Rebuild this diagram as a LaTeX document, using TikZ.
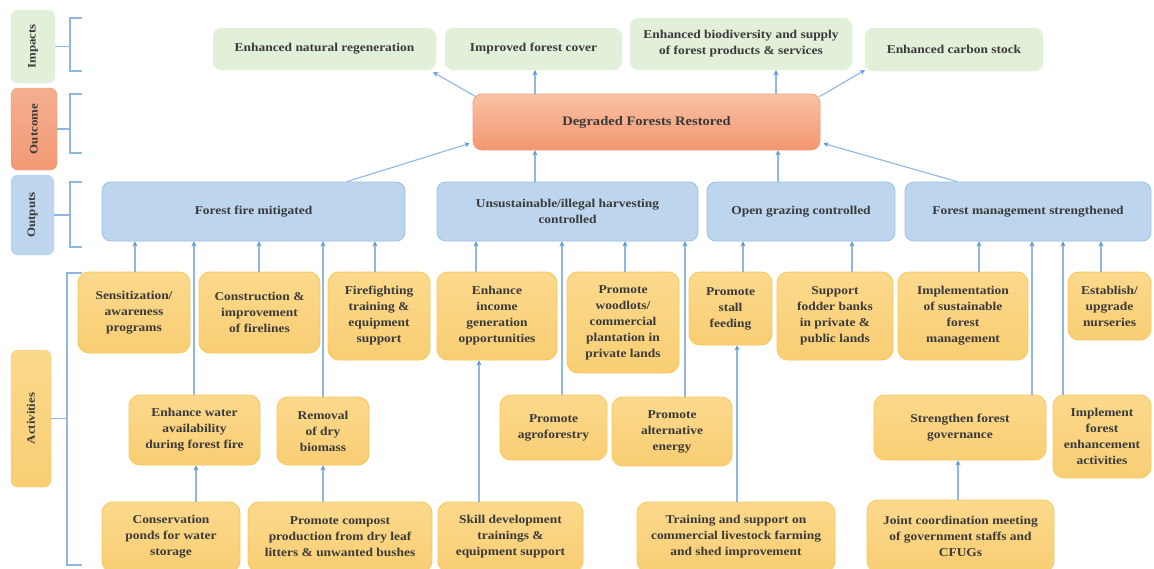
\documentclass[tikz,border=0pt]{standalone}
\usepackage{fontspec}
\setmainfont{Liberation Serif}[FakeStretch=1.12]
\usetikzlibrary{arrows.meta,calc}
\definecolor{txt}{HTML}{3A3A3A}
\definecolor{gfill}{HTML}{E2EFD9}
\definecolor{otop}{HTML}{F9C2A6}
\definecolor{obot}{HTML}{F3966F}
\definecolor{oline}{HTML}{F29E7A}
\definecolor{olab}{HTML}{F29A74}
\definecolor{bfill}{HTML}{BDD6EE}
\definecolor{bline}{HTML}{9FC1E7}
\definecolor{ytop}{HTML}{FBD98C}
\definecolor{ybot}{HTML}{F9CE74}
\definecolor{yline}{HTML}{F7C95E}
\definecolor{lblue}{HTML}{8EB7E4}
\definecolor{ablue}{HTML}{5D97D6}
\tikzset{
  box/.style={rounded corners=9pt, inner sep=0pt, align=center, text=txt,
    font=\bfseries\fontsize{12}{16}\selectfont},
  gbox/.style={box, fill=gfill, draw=gfill},
  obox/.style={box, top color=otop, bottom color=obot, draw=oline, line width=0.8pt,
    font=\bfseries\fontsize{13}{16}\selectfont},
  bbox/.style={box, fill=bfill, draw=bline, line width=0.9pt},
  ybox/.style={box, top color=ytop, bottom color=ybot, draw=yline, line width=0.9pt, rounded corners=11pt},
  lab/.style={box, rounded corners=7pt, rotate=90, font=\bfseries\fontsize{11.5}{14}\selectfont},
  conn/.style={draw=lblue, line width=1.1pt, -{Stealth[length=5pt,width=5pt,color=ablue]}},
  brk/.style={draw=lblue, line width=1.1pt},
}
\newcommand\vconn[3]{\draw[conn] (#1.north -| #3,0) -- (#2.south -| #3,0);}
\begin{document}
\begin{tikzpicture}[x=1pt,y=-1pt]
\useasboundingbox (0,0) rectangle (1154,568);
\fill[white] (0,0) rectangle (1154,568);
\clip (0,0) rectangle (1154,568);

% left labels
\node[lab, fill=gfill, draw=gfill, minimum width=73, minimum height=44] (labImp) at (33,46.5) {Impacts};
\node[lab, top color=olab!80!white, bottom color=olab, draw=olab, minimum width=82, minimum height=46] (labOut) at (34,129) {Outcome};
\node[lab, fill=bfill, draw=bfill, minimum width=80, minimum height=43] (labOutp) at (32.5,215) {Outputs};
\node[lab, top color=ytop, bottom color=ybot, draw=yline, minimum width=137, minimum height=40] (labAct) at (31,418.5) {Activities};

% brackets
\draw[brk] (82,18) -- (70,18) -- (70,71) -- (82,71);
\draw[brk] (labImp.south) -- (labImp.south -| 70,0);
\draw[brk] (82,94) -- (70,94) -- (70,153) -- (82,153);
\draw[brk] (labOut.south) -- (labOut.south -| 70,0);
\draw[brk] (82,182) -- (70,182) -- (70,247) -- (82,247);
\draw[brk] (labOutp.south) -- (labOutp.south -| 70,0);
\draw[brk] (82,273) -- (67,273) -- (67,565) -- (82,565);
\draw[brk] (labAct.south) -- (labAct.south -| 67,0);

% impacts
\node[gbox, minimum width=223, minimum height=42] (imp1) at (324.5,49) {Enhanced natural regeneration};
\node[gbox, minimum width=177, minimum height=42] (imp2) at (533.5,49) {Improved forest cover};
\node[gbox, minimum width=222, minimum height=52] (imp3) at (741,44) {Enhanced biodiversity and supply\\of forest products \& services};
\node[gbox, minimum width=178, minimum height=43] (imp4) at (954,49.5) {Enhanced carbon stock};

% outcome
\node[obox, minimum width=347, minimum height=56] (out) at (646.5,122) {Degraded Forests Restored};

% outputs
\node[bbox, minimum width=303, minimum height=59] (o1) at (253.5,211.5) {Forest fire mitigated};
\node[bbox, minimum width=261, minimum height=59] (o2) at (567.5,211.5) {Unsustainable/illegal harvesting\\controlled};
\node[bbox, minimum width=188, minimum height=59] (o3) at (801,211.5) {Open grazing controlled};
\node[bbox, minimum width=246, minimum height=59] (o4) at (1028,211.5) {Forest management strengthened};

% activities row 1
\node[ybox, minimum width=112, minimum height=81] (a1) at (134,312.5) {Sensitization/\\awareness\\programs};
\node[ybox, minimum width=121, minimum height=81] (a2) at (259.5,312.5) {Construction \&\\improvement\\of firelines};
\node[ybox, minimum width=102, minimum height=88] (a3) at (379,316) {Firefighting\\training \&\\equipment\\support};
\node[ybox, minimum width=120, minimum height=88] (a4) at (497,316) {Enhance\\income\\generation\\opportunities};
\node[ybox, minimum width=112, minimum height=101] (a5) at (623,322.5) {Promote\\woodlots/\\commercial\\plantation in\\private lands};
\node[ybox, minimum width=83, minimum height=73] (a6) at (730.5,308.5) {Promote\\stall\\feeding};
\node[ybox, minimum width=116, minimum height=88] (a7) at (835,316) {Support\\fodder banks\\in private \&\\public lands};
\node[ybox, minimum width=130, minimum height=88] (a8) at (963,316) {Implementation\\of sustainable\\forest\\management};
\node[ybox, minimum width=83, minimum height=68] (a9) at (1109.5,306) {Establish/\\upgrade\\nurseries};

% activities row 2
\node[ybox, minimum width=131, minimum height=70] (b1) at (194.5,430) {Enhance water\\availability\\during forest fire};
\node[ybox, minimum width=92, minimum height=68] (b2) at (323,431) {Removal\\of dry\\biomass};
\node[ybox, minimum width=107, minimum height=65] (b3) at (553.5,427.5) {Promote\\agroforestry};
\node[ybox, minimum width=120, minimum height=69] (b4) at (672,431.5) {Promote\\alternative\\energy};
\node[ybox, minimum width=172, minimum height=65] (b5) at (960,427.5) {Strengthen forest\\governance};
\node[ybox, minimum width=98, minimum height=83] (b6) at (1102,436.5) {Implement\\forest\\enhancement\\activities};

% activities row 3
\node[ybox, minimum width=138, minimum height=70] (c1) at (171,537) {Conservation\\ponds for water\\storage};
\node[ybox, minimum width=184, minimum height=70] (c2) at (340,537) {Promote compost\\production from dry leaf\\litters \& unwanted bushes};
\node[ybox, minimum width=145, minimum height=70] (c3) at (510.5,537) {Skill development\\trainings \&\\equipment support};
\node[ybox, minimum width=198, minimum height=70] (c4) at (736,537) {Training and support on\\commercial livestock farming\\and shed improvement};
\node[ybox, minimum width=187, minimum height=72] (c5) at (960.5,536) {Joint coordination meeting\\of government staffs and\\CFUGs};

% outcome -> impacts
\draw[conn] ([shift={(3,3)}]out.north west) -- ([shift={(-3,2)}]imp1.south east);
\draw[conn] (out.north -| 535,0) -- (imp2.south -| 535,0);
\draw[conn] (out.north -| 776,0) -- (imp3.south -| 776,0);
\draw[conn] ([shift={(-1,3)}]out.north east) -- ([shift={(0,-1)}]imp4.south west);

% outputs -> outcome
\draw[conn] (o1.north -| 347,0) -- ([shift={(-3,-7)}]out.south west);
\draw[conn] (o2.north -| 535,0) -- (out.south -| 535,0);
\draw[conn] (o3.north -| 778,0) -- (out.south -| 778,0);
\draw[conn] (o4.north -| 957,0) -- ([shift={(3,-7)}]out.south east);

% activities -> outputs
\vconn{a1}{o1}{135}
\vconn{b1}{o1}{194}
\vconn{a2}{o1}{259}
\vconn{b2}{o1}{323}
\vconn{a3}{o1}{375}
\vconn{a4}{o2}{476}
\vconn{b3}{o2}{562}
\vconn{a5}{o2}{625}
\vconn{b4}{o2}{685}
\vconn{a6}{o3}{743}
\vconn{a7}{o3}{852}
\vconn{a8}{o4}{979}
\vconn{b5}{o4}{1032}
\vconn{b6}{o4}{1063}
\vconn{a9}{o4}{1101}

% row 3 -> upper activities
\vconn{c1}{b1}{196}
\vconn{c2}{b2}{323}
\vconn{c3}{a4}{479}
\vconn{c4}{a6}{737}
\vconn{c5}{b5}{958}
\end{tikzpicture}
\end{document}
